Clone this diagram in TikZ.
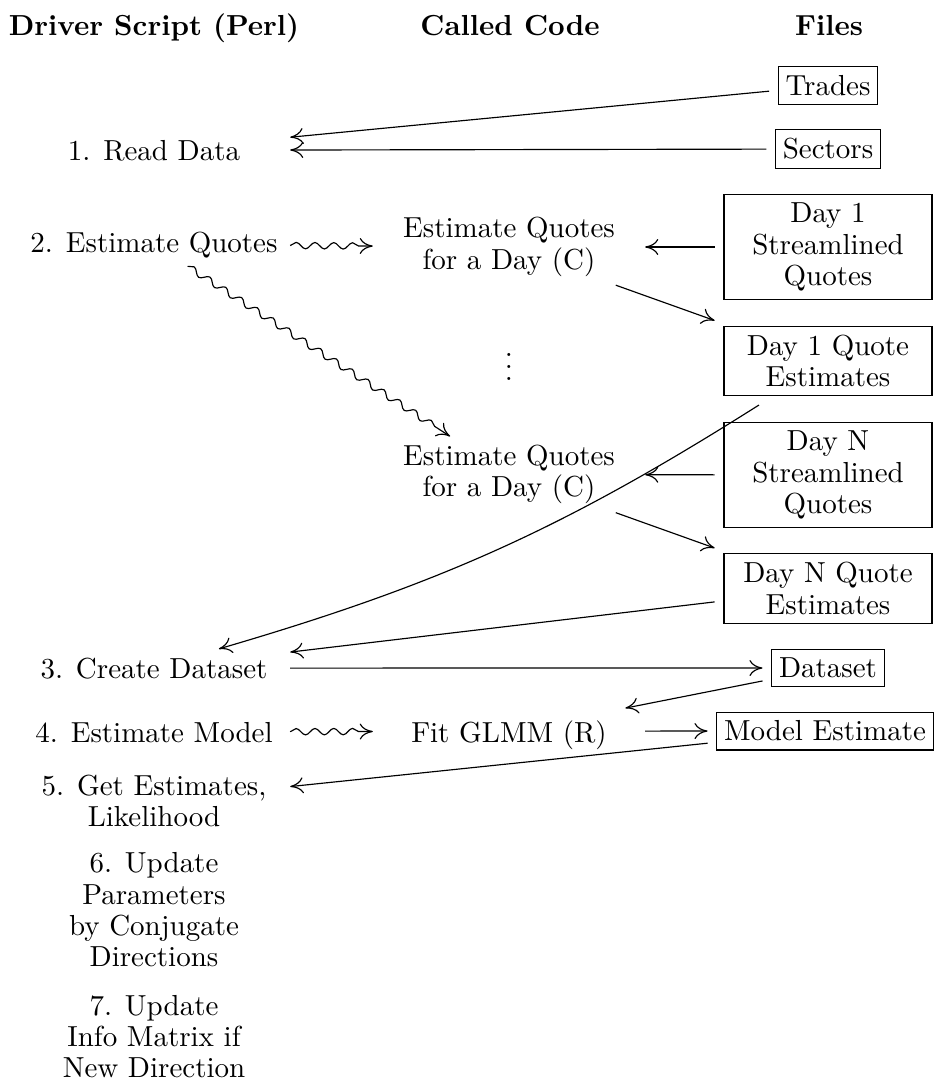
\documentclass[tikz,border=0pt]{standalone}
\usetikzlibrary{arrows.meta,decorations.pathmorphing}
\begin{document}
\begin{tikzpicture}[x=0.345pt,y=0.345pt,
  every node/.style={font=\fontsize{10}{10.8}\selectfont},
  head/.style={font=\fontsize{10}{10.8}\selectfont\bfseries, anchor=base, inner sep=0pt},
  txt/.style={minimum width=94pt, inner xsep=0pt, inner ysep=3pt, outer sep=0pt},
  txtm/.style={txt, align=center},
  filebox/.style={draw, align=center, inner xsep=2.5pt, inner ysep=3pt, outer sep=3.2pt},
  widebox/.style={filebox, minimum width=71.8pt},
  arr/.style={-{Computer Modern Rightarrow[length=4.5pt,width=5.5pt]}},
  sq/.style={arr, decorate, decoration={snake, segment length=6.5pt, amplitude=1.1pt, post length=4pt}}]

\useasboundingbox (0,0) rectangle (934,-1082);

% headers
\node[head] (hd) at (154,-35.5) {Driver Script (Perl)};
\node[head] (hc) at (510,-35.5) {Called Code};
\node[head] (hf) at (829,-35.5) {Files};

% driver script column
\node[txt, anchor=base] (read)   at (154,-160) {1. Read Data};
\node[txt, anchor=base] (estq)   at (154,-252) {2. Estimate Quotes};
\node[txt, anchor=base] (create) at (154,-678) {3. Create Dataset};
\node[txt, anchor=base] (estm)   at (154,-742) {4. Estimate Model};
\node[txtm] (gete) at (154,-800.7) {5. Get Estimates,\\Likelihood};
\node[txtm] (upd)  at (154,-910)   {6. Update\\Parameters\\by Conjugate\\Directions};
\node[txtm] (info) at (154,-1036.7) {7. Update\\Info Matrix if\\New Direction};

% called code column
\node[txtm] (mida) at (509,-247) {Estimate Quotes\\for a Day (C)};
\node[anchor=base, inner sep=0pt] (dots) at (509,-380) {$\vdots$};
\node[txtm] (midb) at (509,-474.5) {Estimate Quotes\\for a Day (C)};
\node[txt, anchor=base, text depth=0pt, inner ysep=4.2pt] (fit) at (509,-742) {Fit GLMM (R)};

% files column
\node[filebox] (trades)  at (828,-85.5) {Trades};
\node[filebox] (sectors) at (828,-149) {Sectors};
\node[widebox] (d1s) at (828,-247) {Day 1\\Streamlined\\Quotes};
\node[widebox] (d1q) at (828,-361) {Day 1 Quote\\Estimates};
\node[widebox] (dns) at (828,-475) {Day N\\Streamlined\\Quotes};
\node[widebox] (dnq) at (828,-588.5) {Day N Quote\\Estimates};
\node[filebox] (dataset) at (828,-668) {Dataset};
\node[filebox] (model)   at (825,-731) {Model Estimate};

% connectors
\draw[arr] (trades) -- (read);
\draw[arr] (sectors) -- (read);
\draw[sq]  (estq) -- (mida);
\draw[sq]  (estq) -- (midb);
\draw[arr] (d1s) -- (mida);
\draw[arr] (mida) -- (d1q);
\draw[arr] (dns) -- (midb);
\draw[arr] (midb) -- (dnq);
\draw[arr] (d1q) to[bend left=8] (create);
\draw[arr] (dnq) -- (create);
\draw[arr] (create) -- (dataset);
\draw[arr] (dataset) -- (fit);
\draw[sq]  (estm) -- (fit);
\draw[arr] (fit) -- (model);
\draw[arr] (model) -- (gete);
\end{tikzpicture}
\end{document}
